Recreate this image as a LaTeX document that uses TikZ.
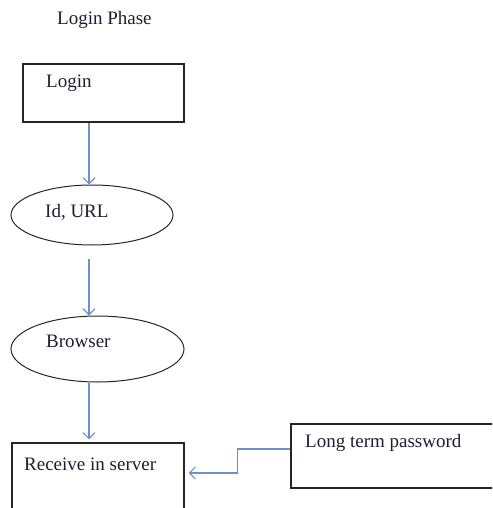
\documentclass[tikz,border=0pt]{standalone}
\usepackage{fontspec}
\setmainfont{Liberation Serif}
\usetikzlibrary{shapes.geometric,arrows.meta}
\definecolor{linkblue}{RGB}{105,145,205}
\definecolor{ink}{RGB}{30,30,50}
\tikzset{
  box/.style={draw=black!85, line width=1.3pt, rectangle, inner sep=0pt},
  oval/.style={draw=black!85, line width=1pt, ellipse, inner sep=0pt},
  lbl/.style={text=ink, font=\fontsize{19}{22}\selectfont, inner sep=0pt, anchor=base west},
  link/.style={draw=linkblue, line width=1.1pt, -{Straight Barb[length=6pt,width=12pt]}}
}
\begin{document}
\begin{tikzpicture}[x=1pt, y=-1pt]
    \useasboundingbox (0,0) rectangle (492,508);
    \clip (0,0) rectangle (492,508);
    % Title
    \node[lbl] (title) at (57,25) {Login Phase};

    % Boxes and ovals
    \node[box, minimum width=161, minimum height=58] (login) at (103.5,93) {};
    \node[oval, minimum width=162, minimum height=60] (idurl) at (92,215) {};
    \node[oval, minimum width=173, minimum height=66] (browser) at (97.5,349) {};
    \node[box, minimum width=172, minimum height=80] (recv) at (98,483) {};
    \node[box, minimum width=210, minimum height=64] (pwd) at (396,456) {};

    % Texts
    \node[lbl] (tlogin) at (46,88) {Login};
    \node[lbl] (tidurl) at (45,217) {Id, URL};
    \node[lbl] (tbrowser) at (46,347) {Browser};
    \node[lbl] (trecv) at (24,470) {Receive in server};
    \node[lbl] (tpwd) at (305,447) {Long term password};

    % Connectors
    \draw[link] ([xshift=-14.5]login.south) -- ([xshift=-3]idurl.north);
    \draw[link] ([xshift=-3,yshift=-13]idurl.south) -- ([xshift=-8.5]browser.north);
    \draw[link] ([xshift=-8.5]browser.south) -- ([xshift=-9,yshift=3]recv.north);
    \draw[link] ([yshift=7]pwd.west) -- ++(-53,0) |- ([xshift=4,yshift=10]recv.east);
\end{tikzpicture}
\end{document}
